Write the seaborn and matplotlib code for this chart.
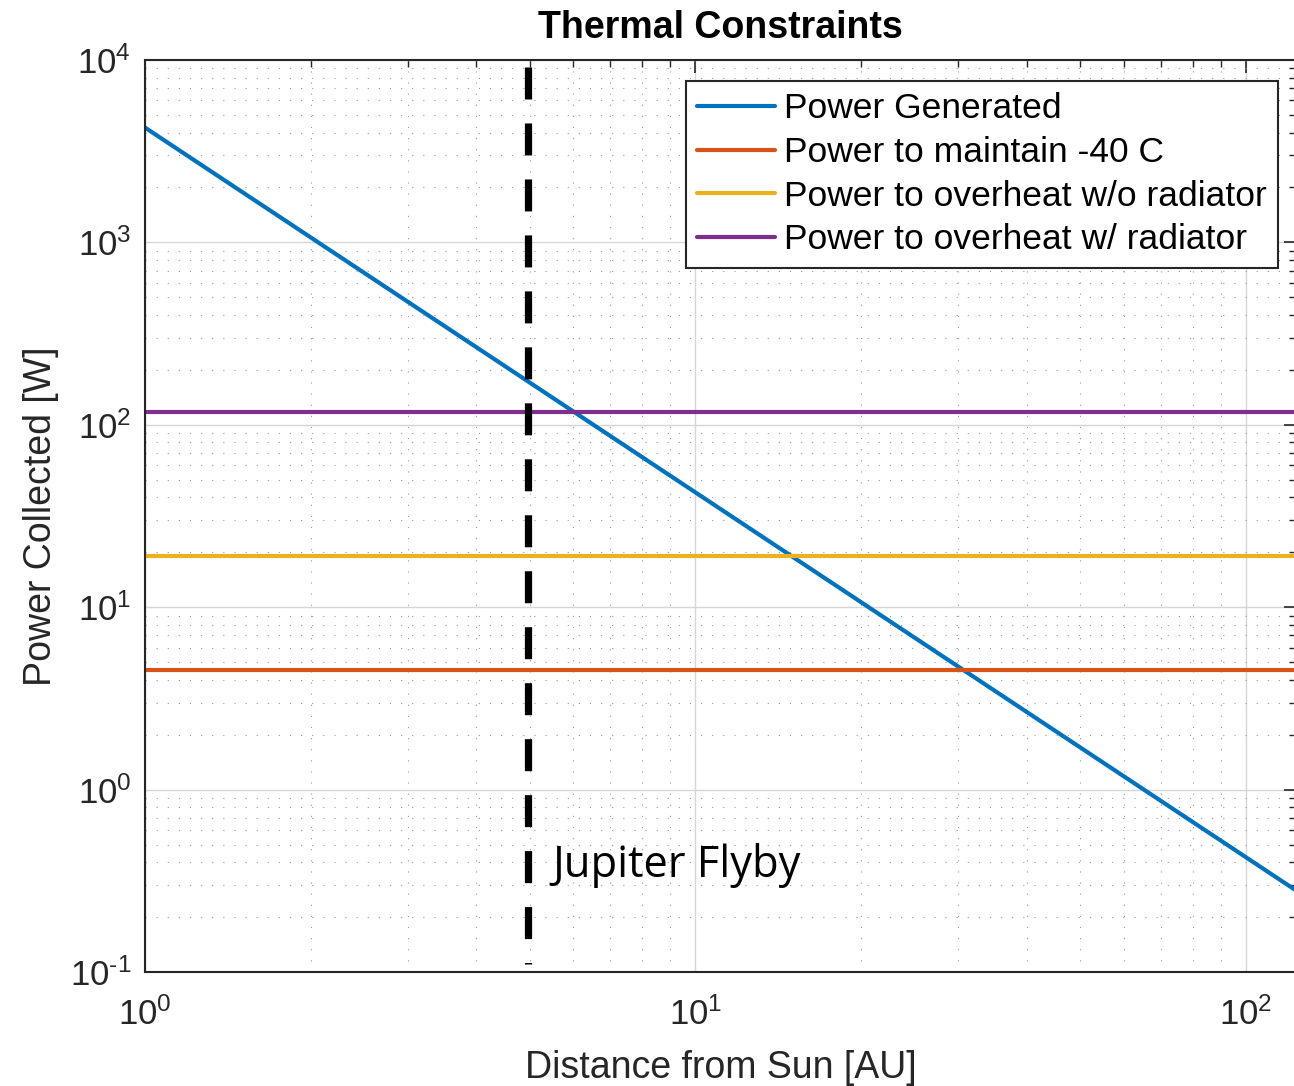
import numpy as np
import pandas as pd
import matplotlib
matplotlib.use("Agg")
import matplotlib.pyplot as plt
import seaborn as sns
from matplotlib.ticker import LogLocator, FuncFormatter, NullFormatter

# ---------------- data ----------------
distance_au = [1.0, 123.3]                 # x extent of the curves
power_generated = [4260.0, 0.28]           # straight line on log-log axes
power_maintain_m40 = [4.55, 4.55]
power_overheat_no_rad = [19.2, 19.2]
power_overheat_rad = [118.0, 118.0]
series_names = ["Power Generated", "Power to maintain -40 C",
                "Power to overheat w/o radiator", "Power to overheat w/ radiator"]
series_colors = ["#0072BD", "#D95319", "#EDB120", "#7E2F8E"]
jupiter_au = [4.97, 4.97]
jupiter_line_power = [9160.0, 0.11]
annotation_text = "Jupiter Flyby"
annotation_pos = (5.5, 0.33)
x_limits = (1.0, 123.3)
y_limits = (0.1, 1.0e4)
title_text = "Thermal Constraints"
x_label = "Distance from Sun [AU]"
y_label = "Power Collected [W]"

# ---------------- style ----------------
sns.set_style("white")
plt.rcParams.update({
    "font.family": ["Liberation Sans", "DejaVu Sans"],
    "mathtext.fontset": "custom",
    "mathtext.rm": "Liberation Sans",
    "mathtext.it": "Liberation Sans:italic",
    "mathtext.bf": "Liberation Sans:bold",
    "axes.unicode_minus": False,
})
text_color = "#262626"

df = pd.concat([
    pd.DataFrame({"x": distance_au, "y": vals, "series": name})
    for name, vals in zip(series_names,
                          [power_generated, power_maintain_m40,
                           power_overheat_no_rad, power_overheat_rad])
], ignore_index=True)

fig = plt.figure(figsize=(12.94, 10.86), dpi=100)
left, right_px, top_px, bottom_px = 145, 1296, 60, 972
ax = fig.add_axes([left / 1294, 1 - bottom_px / 1086,
                   (right_px - left) / 1294, (bottom_px - top_px) / 1086])

ax.set_xscale("log")
ax.set_yscale("log")

sns.lineplot(data=df, x="x", y="y", hue="series", hue_order=series_names,
             palette=series_colors, linewidth=3.0, sort=False, estimator=None,
             ax=ax)

ax.plot(jupiter_au, jupiter_line_power, color="black", linewidth=5.2,
        linestyle=(0, (4.43, 3.32)), zorder=3)

ax.text(annotation_pos[0], annotation_pos[1], annotation_text,
        family=["Open Sans", "DejaVu Sans"], fontsize=31.3, color="black",
        ha="left", va="baseline")

ax.set_xlim(*x_limits)
ax.set_ylim(*y_limits)


def pow10_label(v, pos):
    e = int(round(np.log10(v)))
    if e < 0:
        return r"$\mathdefault{10^{\text{-}%d}}$" % (-e)
    return r"$\mathdefault{10^{%d}}$" % e


ax.xaxis.set_major_locator(LogLocator(base=10, numticks=10))
ax.yaxis.set_major_locator(LogLocator(base=10, numticks=10))
ax.xaxis.set_minor_locator(LogLocator(base=10, subs=np.arange(2, 10), numticks=20))
ax.yaxis.set_minor_locator(LogLocator(base=10, subs=np.arange(2, 10), numticks=20))
ax.xaxis.set_major_formatter(FuncFormatter(pow10_label))
ax.yaxis.set_major_formatter(FuncFormatter(pow10_label))
ax.xaxis.set_minor_formatter(NullFormatter())
ax.yaxis.set_minor_formatter(NullFormatter())

ax.grid(True, which="major", color="#d6d6d6", linewidth=1.0, linestyle="-", zorder=0)
ax.grid(True, which="minor", color="#9a9a9a", linewidth=0.8,
        linestyle=(0, (1, 9)), zorder=0)
ax.set_axisbelow(True)

ax.tick_params(which="both", direction="in", top=True, right=True,
               color=text_color, labelcolor=text_color)
ax.tick_params(which="major", length=9, width=1.2, labelsize=25)
ax.tick_params(which="minor", length=5, width=1.0)
ax.tick_params(axis="x", which="major", pad=18)
ax.tick_params(axis="y", which="major", pad=10)

for s in ax.spines.values():
    s.set_color(text_color)
    s.set_linewidth(1.5)
    s.set_visible(True)

ax.set_xlabel(x_label, fontsize=27, color=text_color, labelpad=13)
ax.set_ylabel(y_label, fontsize=27, color=text_color, labelpad=8)
ax.set_title(title_text, fontsize=27, fontweight="bold", color="black", pad=16)

leg = ax.legend(loc="upper right", bbox_to_anchor=(0.9844, 0.977),
                borderaxespad=0, fontsize=25.5, frameon=True, fancybox=False,
                handlelength=2.2, handletextpad=0.25, labelspacing=0.3,
                borderpad=0.32, title=None)
leg.get_frame().set_edgecolor(text_color)
leg.get_frame().set_linewidth(1.5)
leg.get_frame().set_alpha(1.0)
for line in leg.get_lines():
    line.set_linewidth(3.0)
for t in leg.get_texts():
    t.set_color("black")

fig.savefig("out.png", dpi=100)
